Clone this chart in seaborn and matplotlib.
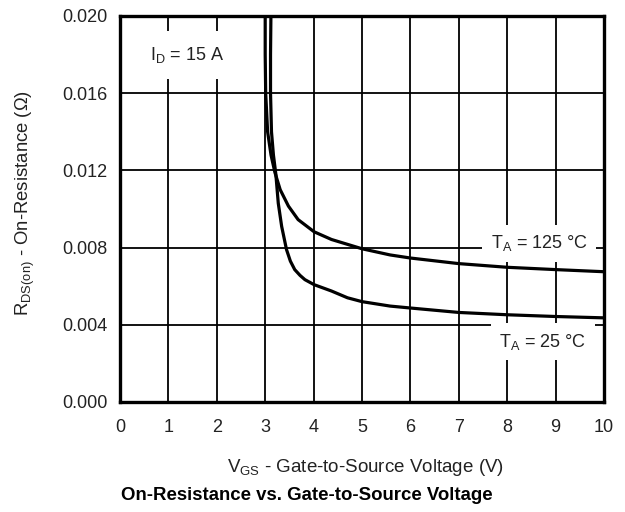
import matplotlib
matplotlib.use("Agg")
import matplotlib.pyplot as plt
import seaborn as sns
import pandas as pd

# Gate-to-source voltage (V) and on-resistance (ohm) for each ambient temperature
vgs_125 = [3.00, 3.00, 3.01, 3.05, 3.12, 3.20, 3.31, 3.48, 3.68, 4.01, 4.37,
           5.00, 5.58, 6.00, 7.00, 8.00, 9.00, 10.00]
rds_125 = [0.0205, 0.0180, 0.0160, 0.0140, 0.0128, 0.0119, 0.0110, 0.01015,
           0.00945, 0.00882, 0.00842, 0.00794, 0.00762, 0.00746, 0.00717,
           0.00698, 0.00686, 0.00675]

vgs_25 = [3.12, 3.11, 3.11, 3.13, 3.17, 3.22, 3.27, 3.34, 3.44, 3.52, 3.61,
          3.72, 3.82, 4.01, 4.37, 4.70, 5.00, 5.58, 6.00, 7.00, 8.00, 9.00, 10.00]
rds_25 = [0.0205, 0.0180, 0.0160, 0.0140, 0.0128, 0.0118, 0.0103, 0.0091,
          0.0079, 0.0073, 0.00686, 0.00656, 0.00634, 0.00608, 0.00575, 0.0054,
          0.0052, 0.00497, 0.00487, 0.00464, 0.00452, 0.00443, 0.00436]

x_ticks = [0, 1, 2, 3, 4, 5, 6, 7, 8, 9, 10]
y_ticks = [0.000, 0.004, 0.008, 0.012, 0.016, 0.020]
y_tick_labels = ["0.000", "0.004", "0.008", "0.012", "0.016", "0.020"]

sns.set_theme(style="white")
plt.rcParams["font.family"] = ["Liberation Sans", "DejaVu Sans"]
plt.rcParams["mathtext.fontset"] = "custom"
plt.rcParams["mathtext.rm"] = "Liberation Sans"
plt.rcParams["mathtext.it"] = "Liberation Sans"

df = pd.concat([
    pd.DataFrame({"vgs": vgs_125, "rds": rds_125, "temp": "125"}),
    pd.DataFrame({"vgs": vgs_25, "rds": rds_25, "temp": "25"}),
], ignore_index=True)

fig = plt.figure(figsize=(6.25, 5.12), dpi=100)
ax = fig.add_axes([120 / 625, 1 - 402 / 512, 484 / 625, 386 / 512])

sns.lineplot(data=df, x="vgs", y="rds", hue="temp", palette=["black", "black"],
             estimator=None, sort=False, linewidth=2.3, legend=False, ax=ax)

ax.set_xlim(0, 10)
ax.set_ylim(0, 0.020)
ax.set_xticks(x_ticks)
ax.set_xticklabels([str(t) for t in x_ticks])
ax.set_yticks(y_ticks)
ax.set_yticklabels(y_tick_labels)
ax.grid(True, color="black", linewidth=1.3)
ax.set_axisbelow(True)
for s in ax.spines.values():
    s.set_color("black")
    s.set_linewidth(2.4)
ax.tick_params(axis="both", length=0, labelsize=13, colors="#222222")
ax.tick_params(axis="x", pad=12)
ax.tick_params(axis="y", pad=9)
ax.set_xlabel("")
ax.set_ylabel("")

txt_color = "#222222"
ax.text(1.38, 0.01798, r"$\mathregular{I_D}$ = 15 A", fontsize=13, color=txt_color,
        ha="center", va="center",
        bbox=dict(facecolor="white", edgecolor="none", pad=10))
ax.text(8.66, 0.00822, r"$\mathregular{T_A}$ = 125 °C", fontsize=13, color=txt_color,
        ha="center", va="center",
        bbox=dict(facecolor="white", edgecolor="none", pad=6))
ax.text(8.74, 0.00313, r"$\mathregular{T_A}$ = 25 °C", fontsize=13, color=txt_color,
        ha="center", va="center",
        bbox=dict(facecolor="white", edgecolor="none", pad=6))

fig.text(365 / 625, 1 - 468 / 512, r"$\mathregular{V_{GS}}$ - Gate-to-Source Voltage (V)",
         fontsize=13.5, color=txt_color, ha="center", va="center")
fig.text(25 / 625, 1 - 203 / 512, r"$\mathregular{R_{DS(on)}}$ - On-Resistance (Ω)",
         fontsize=13.3, color=txt_color, ha="center", va="center", rotation=90)
fig.text(307 / 625, 1 - 495 / 512, "On-Resistance vs. Gate-to-Source Voltage",
         fontsize=13.4, fontweight="bold", color="black", ha="center", va="center")

fig.savefig("out.png", dpi=100)
